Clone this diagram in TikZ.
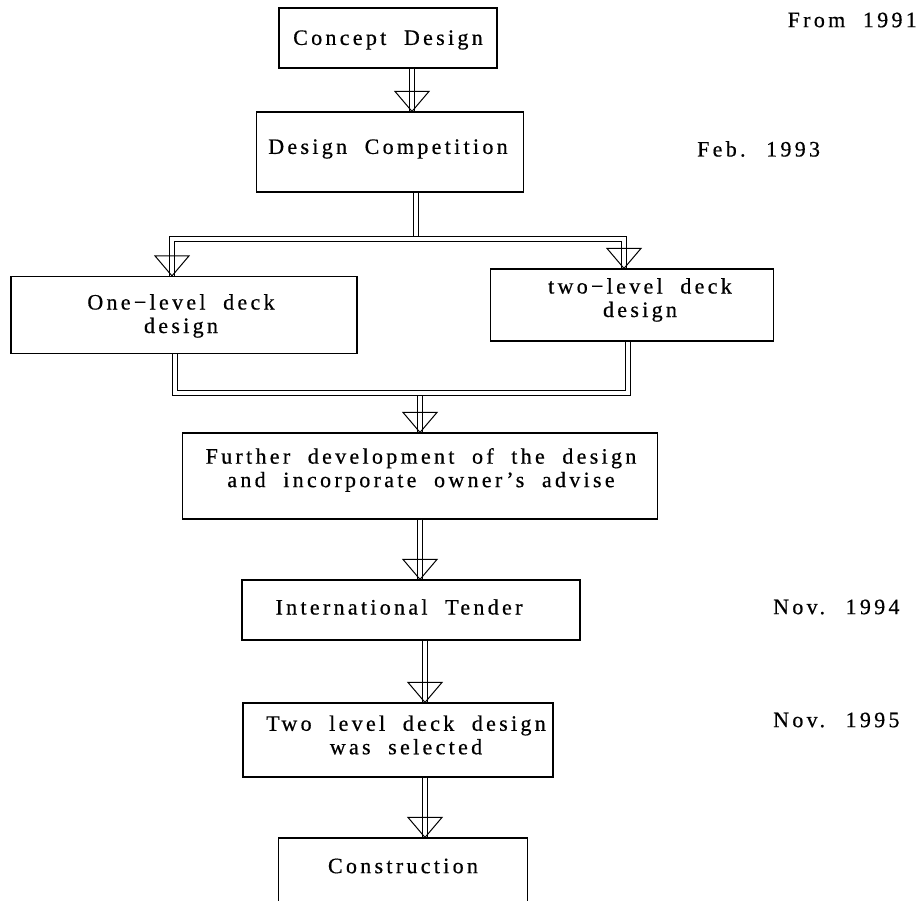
\documentclass[tikz,border=0pt]{standalone}
\usepackage{fontspec}
\setmainfont{Liberation Serif}[LetterSpace=15,WordSpace=2,FakeBold=0.6]
\usetikzlibrary{calc}
\begin{document}
\begin{tikzpicture}[x=1pt,y=-1pt,
  box/.style={draw,line width=1.2pt,inner sep=0pt},
  boxtext/.style={inner sep=0pt,align=center,font=\fontsize{22}{23.5}\selectfont},
  datelabel/.style={inner sep=0pt,font=\fontsize{22}{24}\selectfont},
  dbl/.style={draw,double,double distance=4.2pt,line width=1pt,line join=miter},
  headtri/.style={draw,line width=1pt}]
\newcommand\vhead[1]{\draw[headtri] (#1) +(-17,-20) -- (#1) -- +(17,-20) -- cycle;}
\useasboundingbox (0,0) rectangle (921,901);

% process boxes
\node[box,minimum width=218pt,minimum height=60pt] (A) at (388,38) {};
\node[box,minimum width=267pt,minimum height=80pt] (B) at (390,152) {};
\node[box,minimum width=346pt,minimum height=77pt] (C) at (184,315) {};
\node[box,minimum width=283pt,minimum height=72pt] (D) at (632,305) {};
\node[box,minimum width=475pt,minimum height=86pt] (E) at (420,476) {};
\node[box,minimum width=338pt,minimum height=60pt] (F) at (411,610) {};
\node[box,minimum width=310pt,minimum height=74pt] (G) at (398,740) {};
\node[box,minimum width=249pt,minimum height=64pt] (H) at (403,870) {};

% box captions
\node[boxtext] (tA) at (388,40) {Concept Design};
\node[boxtext] (tB) at (388,149) {Design Competition};
\node[boxtext] (tC) at (181,316) {One−level deck\\design};
\node[boxtext] (tD) at (640,300) {two−level deck\\design};
\node[boxtext] (tE) at (421,470) {Further development of the design\\and incorporate owner's advise};
\node[boxtext] (tF) at (399,607) {International Tender};
\node[boxtext] (tG) at (406,735) {Two level deck design\\was selected};
\node[boxtext] (tH) at (403,866) {Construction};

% dates
\node[datelabel,anchor=east] (dA) at (917,20) {From 1991};
\node[datelabel,anchor=west] (dB) at (697,149) {Feb. 1993};
\node[datelabel,anchor=west] (dF) at (773,607) {Nov. 1994};
\node[datelabel,anchor=west] (dG) at (773,720) {Nov. 1995};

% junction points
\coordinate (ab) at (412,0);
\coordinate (split) at (416,239);
\coordinate (splitL) at (172,239);
\coordinate (splitR) at (624,239);
\coordinate (mergeL) at (175,393);
\coordinate (mergeR) at (628,393);
\coordinate (down) at (420,393);
\coordinate (lower) at (425,0);

% Concept -> Competition
\draw[dbl] (A.south -| ab) -- (B.north -| ab);
\vhead{B.north -| ab}

% split to both deck options
\draw[dbl] (C.north -| splitL) -- (splitL) -- (splitR) -- (D.north -| splitR);
\draw[dbl] (B.south -| split) -- ($(split)+(0,-3)$);
\vhead{C.north -| splitL}
\vhead{D.north -| splitR}

% merge of both options
\draw[dbl] (C.south -| mergeL) -- (mergeL) -- (mergeR) -- (D.south -| mergeR);
\draw[dbl] ($(down)+(0,3)$) -- (E.north -| down);
\vhead{E.north -| down}

% lower chain
\draw[dbl] (E.south -| down) -- (F.north -| down);
\vhead{F.north -| down}
\draw[dbl] (F.south -| lower) -- (G.north -| lower);
\vhead{G.north -| lower}
\draw[dbl] (G.south -| lower) -- (H.north -| lower);
\vhead{H.north -| lower}
\end{tikzpicture}
\end{document}
